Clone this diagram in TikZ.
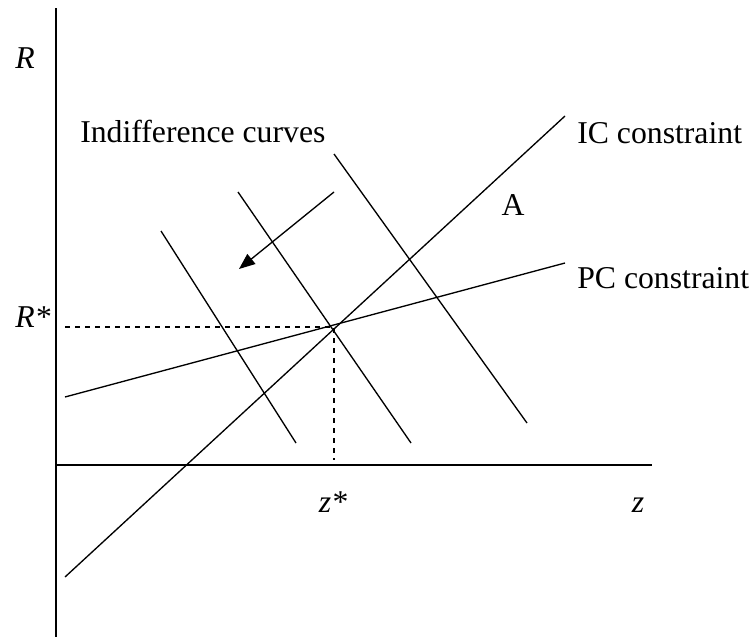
\documentclass[tikz,border=0pt]{standalone}
\usepackage{fontspec}
\setmainfont{Liberation Serif}
\usetikzlibrary{arrows.meta, positioning}

\tikzset{
  axisline/.style={line width=1.5pt},
  curveline/.style={line width=1pt},
  guideline/.style={line width=1pt, dash pattern=on 4pt off 3.5pt},
  lbl/.style={inner sep=0pt, font=\fontsize{23.8}{28}\selectfont}
}

\begin{document}
\begin{tikzpicture}[>=Stealth, x=0.75pt, y=-0.75pt]
  \useasboundingbox (0,0) rectangle (756,639);

  % Axes
  \coordinate (ytop) at (56,8);
  \coordinate (ybot) at (56,637);
  \coordinate (xleft) at (56,465);
  \coordinate (xright) at (652,465);
  \draw[axisline] (ytop) -- (ybot);
  \draw[axisline] (xleft) -- (xright);

  % Constraints
  \coordinate (icL) at (65,577);
  \coordinate (icR) at (565,116);
  \coordinate (pcL) at (65,397);
  \coordinate (pcR) at (565,263);
  \draw[curveline] (icL) -- (icR);
  \draw[curveline] (pcL) -- (pcR);

  % Optimum and guides
  \coordinate (opt) at (334,327);
  \coordinate (rstar) at (65,327);
  \coordinate (zstar) at (334,460);
  \draw[guideline] (rstar) -- (opt) -- (zstar);

  % Indifference curves
  \coordinate (ind1a) at (161,231);
  \coordinate (ind1b) at (296,443);
  \coordinate (ind2a) at (238,192);
  \coordinate (ind2b) at (411,443);
  \coordinate (ind3a) at (334,154);
  \coordinate (ind3b) at (527,423);
  \draw[curveline] (ind1a) -- (ind1b);
  \draw[curveline] (ind2a) -- (ind2b);
  \draw[curveline] (ind3a) -- (ind3b);

  % Direction arrow
  \coordinate (arrS) at (334,192);
  \coordinate (arrE) at (239,269);
  \draw[curveline, -{Triangle[length=12pt, width=9.5pt]}] (arrS) -- (arrE);

  % Labels
  \node[lbl, anchor=base] (labR) at (25,68) {\itshape R};
  \node[lbl, anchor=base west] (labRs) at (15,327) {\itshape R*};
  \node[lbl, anchor=base] (labzs) at (333,512) {\itshape z*};
  \node[lbl, anchor=base] (labz) at (638,512) {\itshape z};
  \node[lbl, anchor=base west] (labind) at (80,142) {Indifference curves};
  \node[lbl, anchor=base west] (labic) at (577,143) {IC constraint};
  \node[lbl, anchor=base west] (labpc) at (577,288) {PC constraint};
  \node[lbl, anchor=base] (labA) at (513,215) {A};
\end{tikzpicture}
\end{document}
